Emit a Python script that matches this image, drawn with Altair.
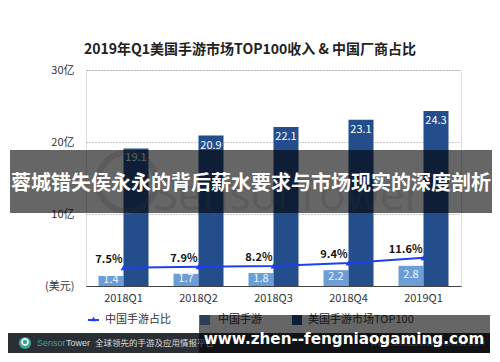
import altair as alt
import pandas as pd

quarters = ["2018Q1", "2018Q2", "2018Q3", "2018Q4", "2019Q1"]
china_rev = [1.4, 1.7, 1.8, 2.2, 2.8]
us_top100 = [19.1, 20.9, 22.1, 23.1, 24.3]
china_share = [7.5, 7.9, 8.2, 9.4, 11.6]
series_names = ["中国手游", "美国手游市场TOP100"]
y_ticks = [0, 10, 20, 30]
y_tick_labels = ["(美元)", "10亿", "20亿", "30亿"]

LIGHT = "#6b9dd6"
DARK = "#234d8b"
LINE = "#1f3ff2"
FONT = "Noto Sans CJK SC"

rows = []
for q, c, u in zip(quarters, china_rev, us_top100):
    rows.append({"q": q, "series": series_names[0], "v": c, "half": c / 2})
    rows.append({"q": q, "series": series_names[1], "v": u, "half": u / 2})
bars_df = pd.DataFrame(rows)
line_df = pd.DataFrame({"q": quarters, "share": china_share,
                        "lab": [f"{s}%" for s in china_share]})

label_map = "{" + ",".join(f"'{t}':'{l}'" for t, l in zip(y_ticks, y_tick_labels)) + "}"

xenc = alt.X("q:N", sort=quarters, title=None,
             scale=alt.Scale(paddingInner=1/3, paddingOuter=1/6),
             axis=alt.Axis(labelAngle=0, ticks=False, labelPadding=6, labelFontSize=11,
                           labelColor="#333", domainColor="#444", domainWidth=1.2,
                           labelFont=FONT))
yenc = alt.Y("v:Q", title=None,
             scale=alt.Scale(domain=[0, 30], nice=False),
             axis=alt.Axis(values=y_ticks, labelExpr=f"{label_map}[datum.value]",
                           ticks=False, domain=False, labelPadding=12, labelFontSize=11,
                           labelColor="#333", grid=True, gridDash=[1, 2], gridColor="#999",
                           labelFont=FONT))
color = alt.Color("series:N", sort=series_names,
                  scale=alt.Scale(domain=series_names, range=[LIGHT, DARK]), legend=None)

base = alt.Chart(bars_df)
bars = base.mark_bar().encode(x=xenc, xOffset=alt.XOffset("series:N", sort=series_names),
                              y=yenc, color=color)

light_lab = base.transform_filter(alt.datum.series == series_names[0]).mark_text(
    color="white", fontSize=11, baseline="middle", dy=-1, font=FONT, opacity=0.9
).encode(x=alt.X("q:N", sort=quarters), xOffset=alt.XOffset("series:N", sort=series_names),
         y=alt.Y("half:Q"), text=alt.Text("v:Q", format=".1f"))
dark_lab = base.transform_filter(alt.datum.series == series_names[1]).mark_text(
    color="white", fontSize=11, baseline="top", dy=4, font=FONT
).encode(x=alt.X("q:N", sort=quarters), xOffset=alt.XOffset("series:N", sort=series_names),
         y=alt.Y("v:Q"), text=alt.Text("v:Q", format=".1f"))

bar_layer = alt.layer(bars, light_lab, dark_lab)

lbase = alt.Chart(line_df)
yl = alt.Y("share:Q", scale=alt.Scale(domain=[0, 88.5], nice=False), axis=None)
line = lbase.mark_line(color=LINE, strokeWidth=2).encode(x=alt.X("q:N", sort=quarters), y=yl)
pts = lbase.mark_point(shape="triangle-up", filled=True, color=LINE, size=35, opacity=1).encode(
    x=alt.X("q:N", sort=quarters), y=yl)
plab = lbase.mark_text(align="right", baseline="bottom", dx=-1, dy=-3, fontSize=11,
                       fontWeight="bold", color="#111", font=FONT).encode(
    x=alt.X("q:N", sort=quarters), y=yl, text="lab:N")
line_layer = alt.layer(line, pts, plab)

dummy = alt.Chart(pd.DataFrame({"a": [0]}))


def rect(x, x2, y, y2, **kw):
    return dummy.mark_rect(**kw).encode(x=alt.value(x), x2=alt.value(x2),
                                         y=alt.value(y), y2=alt.value(y2))


def text(t, x, y, **kw):
    kw.setdefault("font", FONT)
    return dummy.mark_text(text=t, **kw).encode(x=alt.value(x), y=alt.value(y))


title = text("2019年Q1美国手游市场TOP100收入 & 中国厂商占比", 164, -20,
             fontSize=14, fontWeight="bold", color="#222")

# legend
leg_line = dummy.mark_rule(color=LINE, strokeWidth=2).encode(
    x=alt.value(2), x2=alt.value(13), y=alt.value(250))
leg_tri = dummy.mark_point(shape="triangle-up", filled=True, color=LINE, size=30, opacity=1).encode(
    x=alt.value(7.5), y=alt.value(249))
leg_t1 = text("中国手游占比", 19, 250, fontSize=11, color="#333", align="left", baseline="middle")
leg_sq1 = rect(114, 124, 245, 255, color=LIGHT)
leg_t2 = text("中国手游", 132, 250, fontSize=11, color="#333", align="left", baseline="middle")
leg_sq2 = rect(206, 216, 245, 255, color=DARK)
leg_t3 = text("美国手游市场TOP100", 222, 250, fontSize=11, color="#333", align="left", baseline="middle")

# background watermark
wm_circle = dummy.mark_point(shape="circle", filled=False, color="#888", size=3400,
                             strokeWidth=6, opacity=0.22).encode(x=alt.value(41), y=alt.value(112))
wm_text = text("SensorTower", 202, 127, fontSize=44, color="#888", opacity=0.2,
               align="center", baseline="middle", font="Open Sans")

# banner
banner = rect(-76, 406, 80, 143, color="black", opacity=0.6)
banner_t = text("蓉城错失侯永永的背后薪水要求与市场现实的深度剖析", 165, 114, fontSize=20,
                fontWeight="bold", color="white", align="center", baseline="middle")

# footer
footer = rect(-83, 404, 263, 283, color="#2a2e35")
logo = dummy.mark_point(shape="circle", filled=True, color="#3aa590", size=150, opacity=1).encode(
    x=alt.value(-61), y=alt.value(273))
logo_in = dummy.mark_point(shape="circle", filled=False, color="white", size=35, strokeWidth=1.5,
                           opacity=1).encode(x=alt.value(-61), y=alt.value(272))
f_sensor = text("Sensor", -49, 273, fontSize=9, color="#3aa590", align="left", baseline="middle",
                font="Liberation Sans")
f_tower = text("Tower", -20, 273, fontSize=9, color="#dddddd", align="left", baseline="middle",
               font="Liberation Sans")
f_cn = text("全球领先的手游及应用情报平台", 9, 273, fontSize=8.5, color="#dddddd", align="left",
            baseline="middle")
f_url = text("www.sensortower-china.com", 399, 273, fontSize=9, color="#888", align="right",
             baseline="middle", font="Liberation Sans")

# site watermark
wm_box = rect(113, 404, 245, 283, color="black", opacity=0.6)
wm_site = text("www.zhen--fengniaogaming.com", 258, 269, fontSize=15.2, fontWeight="bold",
               color="white", align="center", baseline="middle", font="DejaVu Sans")

chart = alt.layer(
    bar_layer, line_layer, title,
    leg_line, leg_tri, leg_t1, leg_sq1, leg_t2, leg_sq2, leg_t3,
    wm_circle, wm_text, banner, banner_t,
    footer, logo, logo_in, f_sensor, f_tower, f_cn, f_url,
    wm_box, wm_site,
).resolve_scale(y="independent").properties(
    width=375, height=216,
    autosize=alt.AutoSizeParams(type="none"),
    padding={"left": 78, "top": 62, "right": 31, "bottom": 68},
).configure_view(stroke=None).configure(font=FONT)

chart.save("out.html", embed_options={"renderer": "svg", "actions": False})
